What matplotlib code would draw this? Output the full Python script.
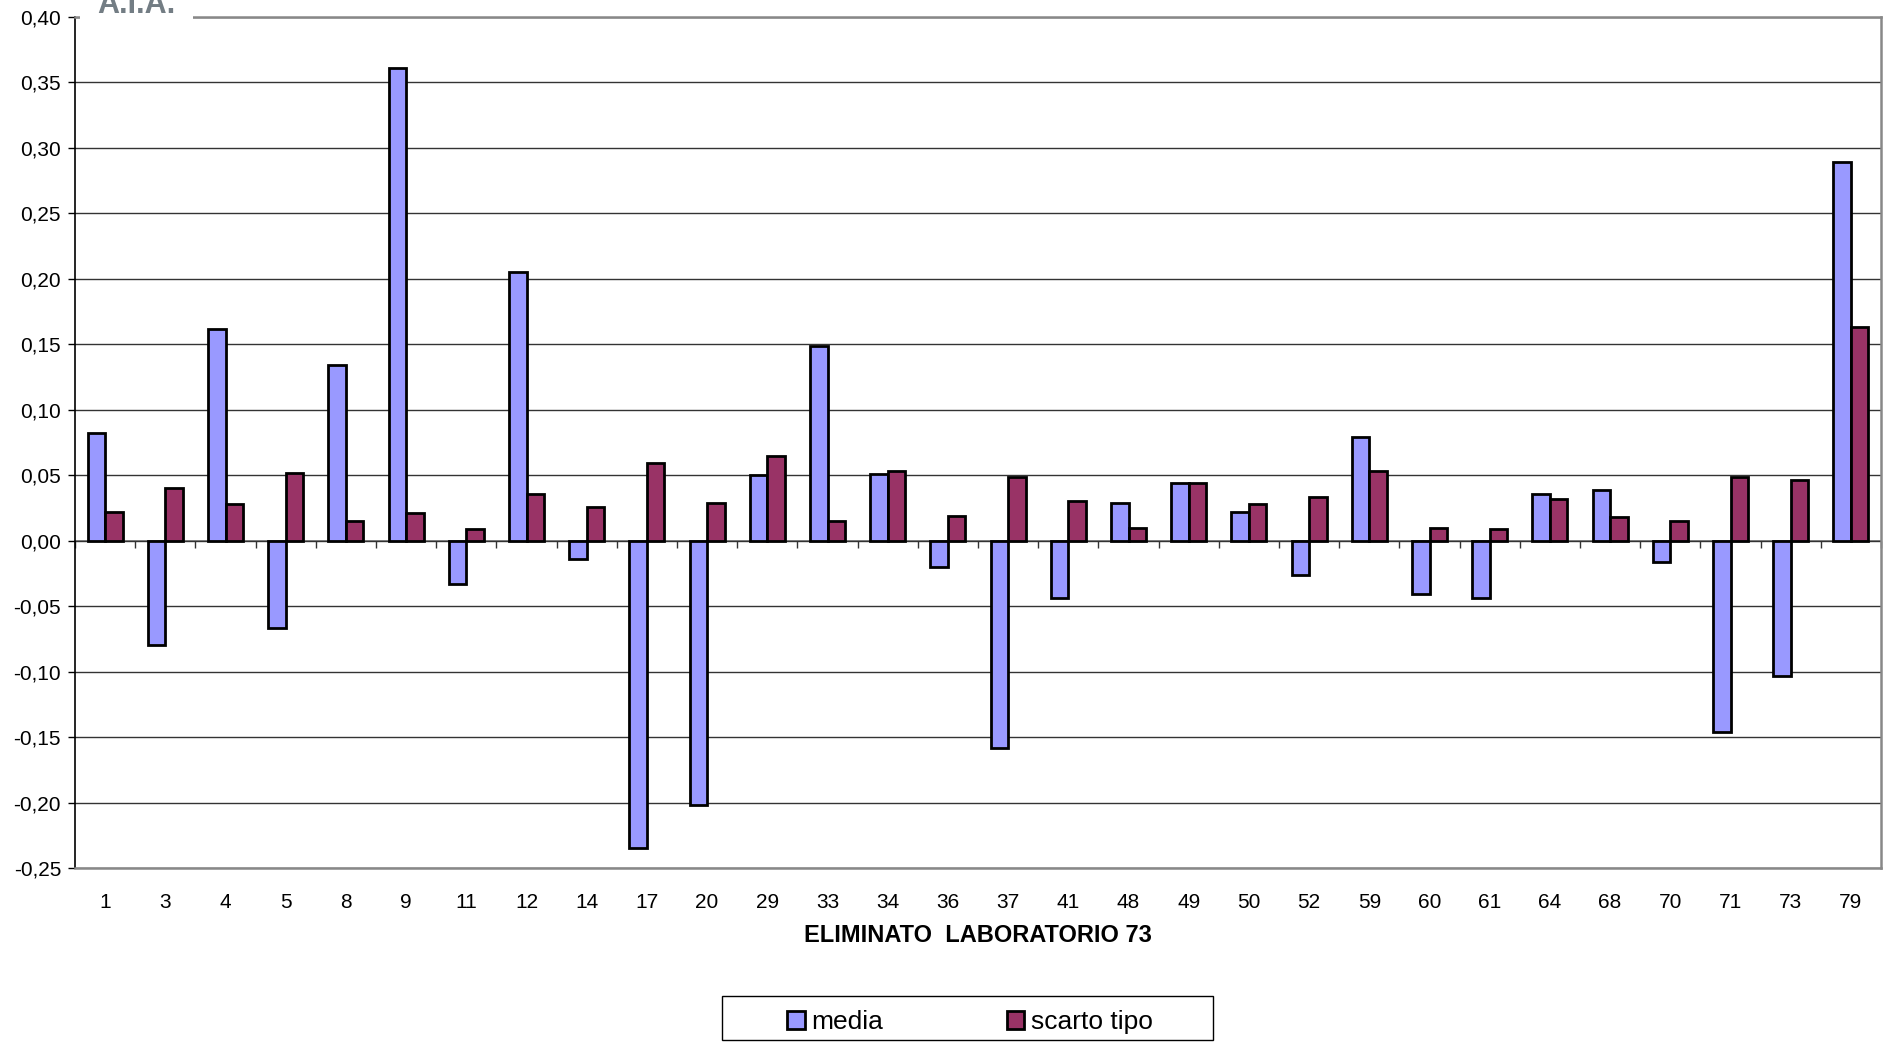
import numpy as np
import matplotlib.pyplot as plt
from matplotlib.ticker import FuncFormatter, MultipleLocator
from matplotlib.patches import Rectangle

plt.rcParams['font.family'] = ['Liberation Sans', 'DejaVu Sans']

# laboratori e valori
labs = ['1', '3', '4', '5', '8', '9', '11', '12', '14', '17', '20', '29', '33',
        '34', '36', '37', '41', '48', '49', '50', '52', '59', '60', '61', '64',
        '68', '70', '71', '73', '79']
media = [0.082, -0.080, 0.162, -0.067, 0.134, 0.361, -0.033, 0.205, -0.014,
         -0.235, -0.202, 0.050, 0.149, 0.051, -0.020, -0.158, -0.044, 0.029,
         0.044, 0.022, -0.026, 0.079, -0.041, -0.044, 0.036, 0.039, -0.016,
         -0.146, -0.103, 0.289]
scarto = [0.022, 0.040, 0.028, 0.052, 0.015, 0.021, 0.009, 0.036, 0.026,
          0.059, 0.029, 0.065, 0.015, 0.053, 0.019, 0.049, 0.030, 0.010,
          0.044, 0.028, 0.033, 0.053, 0.010, 0.009, 0.032, 0.018, 0.015,
          0.049, 0.046, 0.163]

fig = plt.figure(figsize=(18.85, 10.42), dpi=100)
ax = fig.add_axes([75/1885, 1 - 868/1042, 1806/1885, 851/1042])

x = np.arange(len(labs))
w = 0.29
ax.bar(x - w/2, media, w, color='#9999FF', edgecolor='black', linewidth=2.0,
       label='media', zorder=3)
ax.bar(x + w/2, scarto, w, color='#993366', edgecolor='black', linewidth=2.0,
       label='scarto tipo', zorder=3)

ax.set_xlim(-0.5, len(labs) - 0.5)
ax.set_ylim(-0.25, 0.40)
ax.yaxis.set_major_locator(MultipleLocator(0.05))
ax.yaxis.set_major_formatter(FuncFormatter(lambda v, p: ('%.2f' % v).replace('.', ',')))
ax.grid(axis='y', color='#333333', linewidth=1.0, zorder=0)
ax.tick_params(axis='y', labelsize=15, length=5, width=1, direction='out', pad=5)

ax.set_xticks(x)
ax.set_xticklabels(labs)
ax.tick_params(axis='x', labelsize=15, length=0, pad=18)
ax.set_xlabel('ELIMINATO  LABORATORIO 73', fontsize=17, fontweight='bold',
              labelpad=9)

# asse dello zero con le tacche tra le categorie
zero = 0.25 / 0.65
sec = ax.secondary_xaxis(zero)
sec.set_xticks(np.arange(len(labs) + 1) - 0.5)
sec.set_xticklabels([])
sec.tick_params(axis='x', direction='out', length=5, width=1, color='#333333')
sec.spines['bottom'].set_color('#777777')
sec.spines['bottom'].set_linewidth(1.2)

ax.spines['left'].set_color('black')
ax.spines['left'].set_linewidth(1.2)
ax.spines['top'].set_color('#888888')
ax.spines['right'].set_color('#888888')
ax.spines['bottom'].set_color('#888888')
for s in ['top', 'right', 'bottom']:
    ax.spines[s].set_linewidth(1.8)

# logo in alto a sinistra (tagliato dal bordo come nell'originale)
fig.patches.append(Rectangle((80/1885, 1 - 30/1042), 113/1885, 30/1042,
                             transform=fig.transFigure, facecolor='white',
                             edgecolor='none', zorder=5))
fig.text(136/1885, 1 - 13/1042, 'A.I.A.', ha='center', va='baseline',
         fontsize=22, fontweight='heavy', color='#737d84', zorder=6)

# legenda con riquadro
fig.patches.append(Rectangle((722/1885, 2/1042), 491/1885, 44/1042,
                             transform=fig.transFigure, facecolor='white',
                             edgecolor='black', linewidth=1.0, zorder=4))
leg = fig.legend(loc='center', bbox_to_anchor=(970/1885, 1 - 1022/1042),
                 ncol=2, fontsize=19, frameon=False, columnspacing=4.7,
                 handlelength=0.65, handleheight=0.65, handletextpad=0.25,
                 borderpad=0, borderaxespad=0)
leg.set_zorder(6)
for h in leg.legend_handles:
    h.set_linewidth(2.0)

fig.savefig('out.png', dpi=100)
